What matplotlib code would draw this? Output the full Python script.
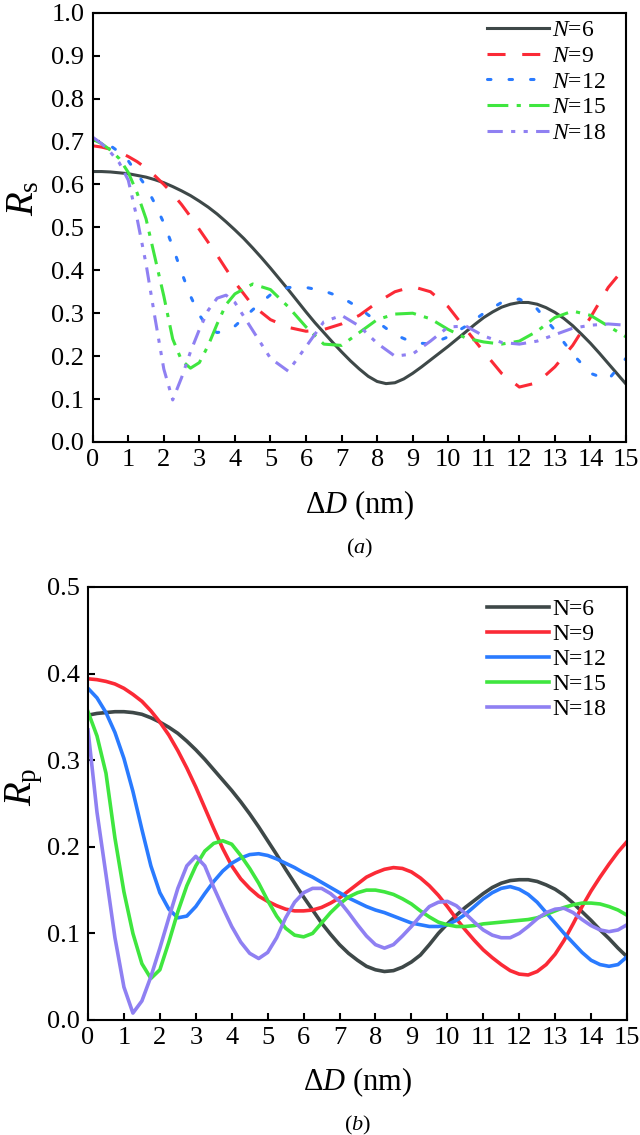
import matplotlib
matplotlib.use("Agg")
import matplotlib.pyplot as plt
from matplotlib.ticker import MultipleLocator, FormatStrFormatter

# ---------------- data ----------------
labels_top = ["$N$=6", "$N$=9", "$N$=12", "$N$=15", "$N$=18"]
labels_bot = ["N=6", "N=9", "N=12", "N=15", "N=18"]

# ΔD sampling grids (nm)
dD_fine = [i * 0.25 for i in range(61)]          # every 0.25 nm
dD_top = [0, 0.25, 0.5, 0.75, 1.0, 1.25, 1.5, 1.75, 2.0, 2.25, 2.5, 2.75, 3.0, 3.25, 3.5,
          3.75, 4.0, 4.5, 5.0, 5.5, 6.0, 6.5, 7.0, 7.5, 8.0, 8.5, 9.0, 9.5, 10.0, 10.5,
          11.0, 11.5, 12.0, 12.5, 13.0, 13.5, 14.0, 14.5, 15.0]

# panel (a): R_s
Rs_N6 = [0.630, 0.630, 0.629, 0.627, 0.625, 0.621, 0.617, 0.611, 0.604, 0.595, 0.585, 0.574,
         0.561, 0.547, 0.531, 0.513, 0.494, 0.474, 0.452, 0.429, 0.405, 0.380, 0.355, 0.329,
         0.303, 0.278, 0.255, 0.232, 0.210, 0.189, 0.170, 0.153, 0.141, 0.136, 0.138, 0.147,
         0.160, 0.175, 0.191, 0.207, 0.223, 0.240, 0.257, 0.274, 0.290, 0.303, 0.314, 0.321,
         0.325, 0.325, 0.321, 0.313, 0.302, 0.288, 0.271, 0.251, 0.230, 0.207, 0.183, 0.159,
         0.135]
Rs_N9 = [0.690, 0.687, 0.682, 0.675, 0.665, 0.653, 0.638, 0.620, 0.600, 0.578, 0.553, 0.525,
         0.495, 0.465, 0.435, 0.403, 0.372, 0.318, 0.285, 0.267, 0.258, 0.262, 0.275, 0.295,
         0.325, 0.350, 0.362, 0.350, 0.315, 0.262, 0.210, 0.160, 0.128, 0.138, 0.175, 0.225,
         0.290, 0.360, 0.410]
Rs_N12 = [0.705, 0.700, 0.690, 0.675, 0.655, 0.625, 0.595, 0.555, 0.510, 0.455, 0.395, 0.340,
          0.296, 0.265, 0.255, 0.258, 0.270, 0.308, 0.343, 0.360, 0.360, 0.352, 0.337, 0.312,
          0.280, 0.250, 0.232, 0.228, 0.245, 0.270, 0.300, 0.325, 0.333, 0.310, 0.260, 0.205,
          0.160, 0.145, 0.195]
Rs_N15 = [0.705, 0.695, 0.680, 0.660, 0.628, 0.580, 0.520, 0.430, 0.340, 0.240, 0.190, 0.172,
          0.185, 0.225, 0.275, 0.320, 0.345, 0.368, 0.355, 0.315, 0.268, 0.228, 0.225, 0.255,
          0.285, 0.298, 0.300, 0.287, 0.262, 0.242, 0.233, 0.228, 0.235, 0.258, 0.290, 0.305,
          0.295, 0.270, 0.245]
Rs_N18 = [0.710, 0.695, 0.675, 0.650, 0.610, 0.520, 0.415, 0.290, 0.170, 0.098, 0.150, 0.210,
          0.262, 0.307, 0.335, 0.342, 0.325, 0.260, 0.195, 0.165, 0.222, 0.280, 0.295, 0.270,
          0.230, 0.200, 0.205, 0.235, 0.268, 0.270, 0.247, 0.232, 0.228, 0.235, 0.250, 0.265,
          0.272, 0.275, 0.272]

# panel (b): R_p  (on dD_fine)
Rp_N6 = [0.352, 0.354, 0.355, 0.356, 0.356, 0.355, 0.353, 0.349, 0.344, 0.338,
         0.331, 0.322, 0.312, 0.301, 0.289, 0.277, 0.265, 0.252, 0.238, 0.223,
         0.207, 0.191, 0.174, 0.158, 0.142, 0.127, 0.112, 0.099, 0.087, 0.077,
         0.069, 0.062, 0.058, 0.056, 0.057, 0.061, 0.067, 0.075, 0.087, 0.100,
         0.111, 0.121, 0.130, 0.138, 0.146, 0.153, 0.158, 0.161, 0.162, 0.162,
         0.160, 0.156, 0.151, 0.144, 0.135, 0.125, 0.115, 0.104, 0.094, 0.083, 0.073]
Rp_N9 = [0.394, 0.393, 0.391, 0.388, 0.383, 0.376, 0.368, 0.357, 0.344, 0.329,
         0.311, 0.291, 0.269, 0.245, 0.221, 0.198, 0.178, 0.163, 0.152, 0.143,
         0.137, 0.132, 0.128, 0.126, 0.126, 0.127, 0.130, 0.135, 0.141, 0.149,
         0.157, 0.165, 0.170, 0.174, 0.176, 0.175, 0.171, 0.164, 0.155, 0.144,
         0.131, 0.117, 0.104, 0.092, 0.081, 0.072, 0.064, 0.057, 0.053, 0.052,
         0.056, 0.064, 0.076, 0.092, 0.111, 0.131, 0.149, 0.165, 0.180, 0.194, 0.206]
Rp_N12 = [0.383, 0.372, 0.355, 0.332, 0.302, 0.264, 0.220, 0.178, 0.147, 0.128,
          0.118, 0.120, 0.131, 0.146, 0.160, 0.172, 0.181, 0.187, 0.191, 0.192,
          0.190, 0.186, 0.181, 0.176, 0.170, 0.165, 0.159, 0.153, 0.147, 0.141,
          0.136, 0.131, 0.127, 0.124, 0.120, 0.116, 0.112, 0.110, 0.108, 0.108,
          0.110, 0.115, 0.122, 0.131, 0.140, 0.147, 0.152, 0.154, 0.151, 0.145,
          0.136, 0.124, 0.112, 0.100, 0.089, 0.078, 0.069, 0.064, 0.062, 0.064, 0.073]
Rp_N15 = [0.356, 0.328, 0.285, 0.210, 0.148, 0.100, 0.065, 0.048, 0.058, 0.090,
          0.125, 0.155, 0.178, 0.195, 0.204, 0.207, 0.203, 0.190, 0.175, 0.158,
          0.138, 0.120, 0.106, 0.098, 0.096, 0.100, 0.112, 0.124, 0.134, 0.142,
          0.147, 0.150, 0.150, 0.148, 0.145, 0.140, 0.134, 0.126, 0.119, 0.113,
          0.110, 0.108, 0.108, 0.109, 0.111, 0.112, 0.113, 0.114, 0.115, 0.116,
          0.118, 0.122, 0.126, 0.130, 0.133, 0.135, 0.135, 0.134, 0.131, 0.127, 0.121]
Rp_N18 = [0.335, 0.240, 0.168, 0.095, 0.038, 0.008, 0.022, 0.050, 0.083, 0.118,
          0.152, 0.178, 0.189, 0.178, 0.153, 0.130, 0.108, 0.090, 0.077, 0.071,
          0.078, 0.095, 0.118, 0.136, 0.147, 0.152, 0.152, 0.146, 0.137, 0.124,
          0.110, 0.097, 0.087, 0.083, 0.087, 0.097, 0.108, 0.120, 0.131, 0.136,
          0.137, 0.132, 0.123, 0.113, 0.104, 0.098, 0.095, 0.095, 0.100, 0.108,
          0.117, 0.124, 0.128, 0.129, 0.124, 0.116, 0.109, 0.104, 0.102, 0.104, 0.110]

x_ticks = list(range(0, 16))

# ---------------- style ----------------
plt.rcParams["font.family"] = ["Liberation Serif", "DejaVu Serif"]
plt.rcParams["mathtext.fontset"] = "custom"
plt.rcParams["mathtext.rm"] = "Liberation Serif"
plt.rcParams["mathtext.it"] = "Liberation Serif:italic"
plt.rcParams["mathtext.bf"] = "Liberation Serif:bold"
plt.rcParams["lines.scale_dashes"] = False

colors = ["#3e4848", "#fb2a36", "#2a7bff", "#3fe63f", "#8f80f2"]
dash_styles = [
    "-",
    (0, (13, 12)),
    (0, (2.5, 13)),
    (0, (15, 6, 3, 6)),
    (0, (11, 6, 3, 6, 3, 6)),
]

W, H = 640, 1135
fig = plt.figure(figsize=(W / 100, H / 100), dpi=100)

ax1 = fig.add_axes([92.7 / W, 1 - 442 / H, 533.3 / W, 429.3 / H])
ax2 = fig.add_axes([88 / W, 1 - 1020 / H, 539 / W, 433 / H])


def style_axis(ax, ymax):
    ax.set_xlim(0, 15)
    ax.set_ylim(0, ymax)
    ax.set_xticks(x_ticks)
    ax.yaxis.set_major_locator(MultipleLocator(0.1))
    ax.yaxis.set_major_formatter(FormatStrFormatter("%.1f"))
    ax.tick_params(axis="both", which="major", direction="in", length=5, width=1.5,
                   labelsize=19, top=False, right=False)
    ax.tick_params(axis="y", pad=6)
    ax.tick_params(axis="x", pad=5)
    for s in ax.spines.values():
        s.set_linewidth(1.5)


# panel (a)
xs_top = [dD_fine, dD_top, dD_top, dD_top, dD_top]
series_top = [Rs_N6, Rs_N9, Rs_N12, Rs_N15, Rs_N18]
for i, (xs, ys, lab) in enumerate(zip(xs_top, series_top, labels_top)):
    ax1.plot(xs, ys, color=colors[i], lw=2.2, linestyle=dash_styles[i], label=lab,
             dash_capstyle="round" if i == 2 else "butt")
style_axis(ax1, 1.0)
ax1.set_xlabel(r"$\Delta D$ (nm)", fontsize=22)
ax1.xaxis.set_label_coords(0.5, -0.1468)
ax1.xaxis.label.set_verticalalignment("center")
ax1.set_ylabel(r"$R_\mathrm{s}$", fontsize=28)
ax1.yaxis.set_label_coords(-0.129, 0.568)
ax1.yaxis.label.set_verticalalignment("center")
ax1.legend(loc="upper right", bbox_to_anchor=(0.9625, 0.984), frameon=False,
           fontsize=17, handlelength=2.6, handletextpad=0.15, labelspacing=0.18,
           borderpad=0, borderaxespad=0)
ax1.text(0.5, -0.247, r"($a$)", transform=ax1.transAxes, ha="center", va="center",
         fontsize=16)

# panel (b)
series_bot = [Rp_N6, Rp_N9, Rp_N12, Rp_N15, Rp_N18]
for i, (ys, lab) in enumerate(zip(series_bot, labels_bot)):
    ax2.plot(dD_fine, ys, color=colors[i], lw=2.6, linestyle="-", label=lab)
style_axis(ax2, 0.5)
ax2.set_xlabel(r"$\Delta D$ (nm)", fontsize=22)
ax2.xaxis.set_label_coords(0.5, -0.1432)
ax2.xaxis.label.set_verticalalignment("center")
ax2.set_ylabel(r"$R_\mathrm{p}$", fontsize=28)
ax2.yaxis.set_label_coords(-0.119, 0.538)
ax2.yaxis.label.set_verticalalignment("center")
ax2.legend(loc="upper right", bbox_to_anchor=(0.961, 0.973), frameon=False,
           fontsize=17, handlelength=2.6, handletextpad=0.15, labelspacing=0.15,
           borderpad=0, borderaxespad=0)
ax2.text(0.5, -0.2425, r"($b$)", transform=ax2.transAxes, ha="center", va="center",
         fontsize=16)

fig.savefig("out.png", dpi=100)
